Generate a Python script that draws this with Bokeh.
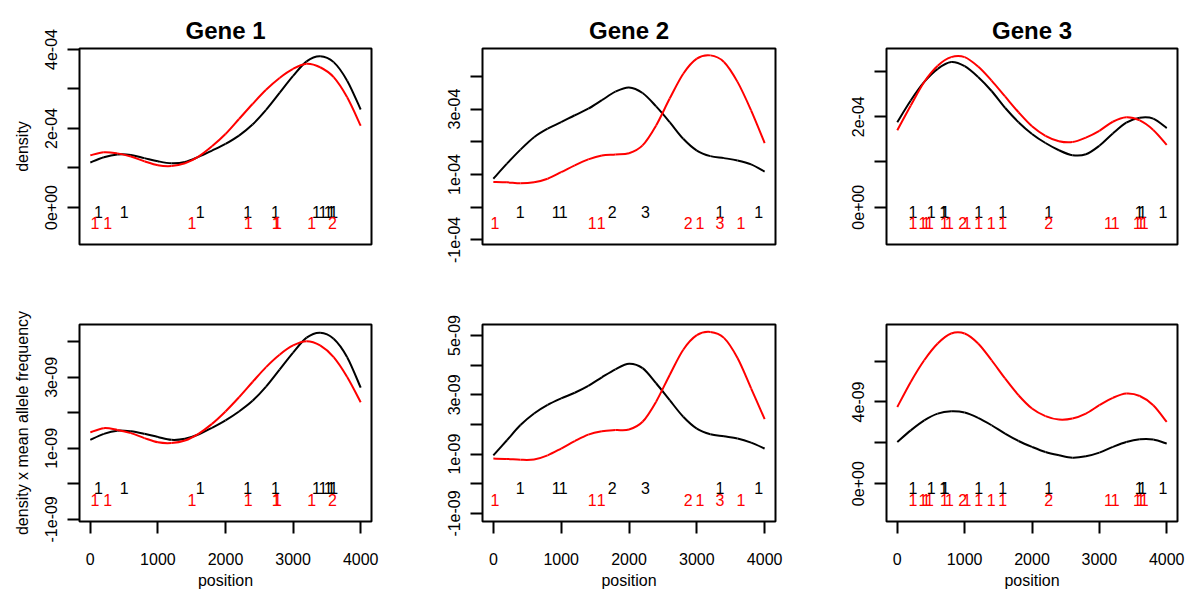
import numpy as np
from bokeh.plotting import figure
from bokeh.layouts import column, row
from bokeh.models import FixedTicker, Range1d
from bokeh.embed import file_html
from bokeh.resources import INLINE
from bokeh.core.properties import value

# ---------------- data ----------------
genes = ["Gene 1", "Gene 2", "Gene 3"]
positions = list(range(0, 4001, 200))

# density (units of 1e-4)
g1_dens_black = np.array([1.14, 1.27, 1.34, 1.33, 1.25, 1.17, 1.12, 1.15, 1.28, 1.44, 1.61, 1.82, 2.10, 2.47, 2.90, 3.33, 3.70, 3.83, 3.68, 3.21, 2.48]) * 1e-4
g1_dens_red = np.array([1.32, 1.40, 1.37, 1.29, 1.17, 1.07, 1.05, 1.12, 1.29, 1.55, 1.86, 2.24, 2.62, 2.98, 3.28, 3.51, 3.64, 3.55, 3.30, 2.79, 2.07]) * 1e-4
g2_dens_black = np.array([0.87, 1.33, 1.76, 2.14, 2.40, 2.60, 2.81, 3.01, 3.27, 3.53, 3.66, 3.49, 3.08, 2.60, 2.09, 1.73, 1.56, 1.50, 1.43, 1.31, 1.09]) * 1e-4
g2_dens_red = np.array([0.77, 0.76, 0.73, 0.76, 0.87, 1.07, 1.28, 1.46, 1.58, 1.61, 1.65, 1.89, 2.50, 3.32, 4.08, 4.54, 4.64, 4.44, 3.83, 2.96, 1.96]) * 1e-4
g3_dens_black = np.array([1.88, 2.36, 2.77, 3.06, 3.21, 3.12, 2.88, 2.57, 2.20, 1.88, 1.62, 1.42, 1.26, 1.15, 1.17, 1.36, 1.63, 1.87, 1.98, 1.96, 1.75]) * 1e-4
g3_dens_red = np.array([1.70, 2.25, 2.77, 3.13, 3.32, 3.32, 3.11, 2.80, 2.45, 2.10, 1.79, 1.58, 1.46, 1.44, 1.54, 1.69, 1.89, 1.99, 1.92, 1.71, 1.38]) * 1e-4

# density x mean allele frequency (units of 1e-9)
g1_freq_black = np.array([1.24, 1.41, 1.50, 1.48, 1.41, 1.32, 1.24, 1.27, 1.39, 1.58, 1.79, 2.04, 2.34, 2.74, 3.22, 3.70, 4.12, 4.26, 4.09, 3.57, 2.71]) * 1e-9
g1_freq_red = np.array([1.45, 1.57, 1.52, 1.43, 1.29, 1.17, 1.15, 1.22, 1.41, 1.69, 2.04, 2.44, 2.87, 3.29, 3.64, 3.90, 4.02, 3.90, 3.57, 3.01, 2.30]) * 1e-9
g2_freq_black = np.array([0.96, 1.47, 1.98, 2.37, 2.66, 2.88, 3.07, 3.30, 3.59, 3.86, 4.05, 3.90, 3.39, 2.82, 2.26, 1.86, 1.67, 1.60, 1.53, 1.39, 1.19]) * 1e-9
g2_freq_red = np.array([0.85, 0.84, 0.81, 0.82, 0.96, 1.19, 1.44, 1.66, 1.77, 1.81, 1.83, 2.09, 2.77, 3.67, 4.52, 5.01, 5.12, 4.92, 4.24, 3.22, 2.18]) * 1e-9
g3_freq_black = np.array([2.04, 2.61, 3.10, 3.43, 3.54, 3.48, 3.22, 2.86, 2.45, 2.09, 1.80, 1.55, 1.39, 1.27, 1.34, 1.52, 1.80, 2.04, 2.17, 2.16, 1.96]) * 1e-9
g3_freq_red = np.array([3.75, 4.98, 6.04, 6.86, 7.35, 7.35, 6.86, 6.04, 5.15, 4.33, 3.68, 3.31, 3.14, 3.19, 3.43, 3.84, 4.20, 4.41, 4.29, 3.84, 3.02]) * 1e-9

# site positions and counts
g1_black_pos = [120, 500, 1627, 2329, 2740, 3347, 3441, 3521, 3563, 3600]
g1_black_cnt = ["1", "1", "1", "1", "1", "1", "1", "1", "1", "1"]
g1_red_pos = [70, 258, 1504, 2335, 2750, 2770, 3274, 3581]
g1_red_cnt = ["1", "1", "1", "1", "1", "1", "1", "2"]

g2_black_pos = [394, 927, 1031, 1753, 2241, 3342, 3911]
g2_black_cnt = ["1", "1", "1", "2", "3", "1", "1"]
g2_red_pos = [24, 1456, 1590, 2874, 3046, 3342, 3649]
g2_red_cnt = ["1", "1", "1", "2", "1", "3", "1"]

g3_black_pos = [233, 504, 690, 710, 1210, 1566, 2247, 3590, 3640, 3945]
g3_black_cnt = ["1", "1", "1", "1", "1", "1", "1", "1", "1", "1"]
g3_red_pos = [233, 381, 430, 479, 701, 775, 973, 1033, 1210, 1393, 1566, 2247, 3136, 3234, 3566, 3615, 3664]
g3_red_cnt = ["1", "1", "1", "1", "1", "1", "2", "1", "1", "1", "1", "2", "1", "1", "1", "1", "1"]

# axis limits and ticks
x_limits = (-160, 4160)
x_ticks = [0, 1000, 2000, 3000, 4000]

top_ylims = [(-0.937e-4, 4.025e-4), (-1.14e-4, 4.85e-4), (-0.825e-4, 3.51e-4)]
bot_ylims = [(-1.06e-9, 4.49e-9), (-1.27e-9, 5.37e-9), (-1.85e-9, 7.79e-9)]

top_yticks = [
    [0.0, 1e-4, 2e-4, 3e-4, 4e-4],
    [-1e-4, 0.0, 1e-4, 2e-4, 3e-4, 4e-4],
    [0.0, 1e-4, 2e-4, 3e-4],
]
top_ylabels = [
    ["0e+00", "", "2e-04", "", "4e-04"],
    ["-1e-04", "", "1e-04", "", "3e-04", ""],
    ["0e+00", "", "2e-04", ""],
]
bot_yticks = [
    [-1e-9, 0.0, 1e-9, 2e-9, 3e-9, 4e-9],
    [-1e-9, 0.0, 1e-9, 2e-9, 3e-9, 4e-9, 5e-9],
    [0.0, 2e-9, 4e-9, 6e-9],
]
bot_ylabels = [
    ["-1e-09", "", "1e-09", "", "3e-09", ""],
    ["-1e-09", "", "1e-09", "", "3e-09", "", "5e-09"],
    ["0e+00", "", "4e-09", ""],
]

top_curves = [(g1_dens_black, g1_dens_red), (g2_dens_black, g2_dens_red), (g3_dens_black, g3_dens_red)]
bot_curves = [(g1_freq_black, g1_freq_red), (g2_freq_black, g2_freq_red), (g3_freq_black, g3_freq_red)]
sites = [
    (g1_black_pos, g1_black_cnt, g1_red_pos, g1_red_cnt),
    (g2_black_pos, g2_black_cnt, g2_red_pos, g2_red_cnt),
    (g3_black_pos, g3_black_cnt, g3_red_pos, g3_red_cnt),
]

# ---------------- layout ----------------
FONT = "Liberation Sans"
col_w = [400, 400, 395]
col_left = [79, 82, 86]
col_right = [29, 25, 18]
row_h = [280, 316]
row_top = [48, 44]
row_bot = [36, 75]


def smooth_segments(xs, ys):
    """Catmull-Rom curve through the read points, drawn as cubic Bezier segments."""
    xs = np.asarray(xs, dtype=float)
    ys = np.asarray(ys, dtype=float)
    px = np.concatenate([[xs[0]], xs, [xs[-1]]])
    py = np.concatenate([[ys[0]], ys, [ys[-1]]])
    n = len(xs) - 1
    x0, y0 = px[1:n + 1], py[1:n + 1]
    x1, y1 = px[2:n + 2], py[2:n + 2]
    cx0 = x0 + (px[2:n + 2] - px[0:n]) / 6.0
    cy0 = y0 + (py[2:n + 2] - py[0:n]) / 6.0
    cx1 = x1 - (px[3:n + 3] - px[1:n + 1]) / 6.0
    cy1 = y1 - (py[3:n + 3] - py[1:n + 1]) / 6.0
    return dict(x0=x0, y0=y0, x1=x1, y1=y1, cx0=cx0, cy0=cy0, cx1=cx1, cy1=cy1)


def make_panel(ci, ri, curves, site, ylim, yticks, ylabels, title, ylab):
    p = figure(
        width=col_w[ci], height=row_h[ri],
        x_range=Range1d(*x_limits), y_range=Range1d(*ylim),
        output_backend="svg", toolbar_location=None,
        x_axis_location="below" if ri == 1 else None,
        min_border_left=col_left[ci], min_border_right=col_right[ci],
        min_border_top=row_top[ri], min_border_bottom=row_bot[ri],
    )
    p.background_fill_color = "white"
    p.border_fill_color = "white"
    p.outline_line_color = "black"
    p.outline_line_width = 2
    p.xgrid.visible = False
    p.ygrid.visible = False

    if title:
        p.title.text = title
        p.title.align = "center"
        p.title.text_font = FONT
        p.title.text_font_size = "24px"
        p.title.text_font_style = "bold"
        p.title.text_color = "black"
        p.title.standoff = 10

    axes = list(p.yaxis) + (list(p.xaxis) if ri == 1 else [])
    for ax in axes:
        ax.axis_line_color = None
        ax.major_tick_in = 0
        ax.major_tick_out = 12
        ax.major_tick_line_width = 2
        ax.major_tick_line_color = "black"
        ax.minor_tick_line_color = None
        ax.major_label_text_font = FONT
        ax.major_label_text_font_size = "16px"
        ax.major_label_text_color = "black"
        ax.axis_label_text_font = FONT
        ax.axis_label_text_font_size = "16px"
        ax.axis_label_text_font_style = "normal"
        ax.axis_label_text_color = "black"

    yax = p.yaxis[0]
    yax.ticker = FixedTicker(ticks=yticks)
    yax.major_label_overrides = dict(zip(yticks, ylabels))
    yax.major_label_orientation = "vertical"
    yax.major_label_standoff = 10
    if ylab:
        yax.axis_label = ylab
        yax.axis_label_standoff = 12

    if ri == 1:
        xax = p.xaxis[0]
        xax.ticker = FixedTicker(ticks=x_ticks)
        xax.major_label_standoff = 19
        xax.axis_label = "position"
        xax.axis_label_standoff = 4

    black_curve, red_curve = curves
    p.bezier(**smooth_segments(positions, black_curve), line_color="black", line_width=2)
    p.bezier(**smooth_segments(positions, red_curve), line_color="red", line_width=2)

    lo, hi = ylim
    bpos, bcnt, rpos, rcnt = site
    p.text(x=bpos, y=[lo + 0.168 * (hi - lo)] * len(bpos), text=bcnt,
           text_color="black", text_font=value(FONT), text_font_size="16px",
           text_align="center", text_baseline="middle")
    p.text(x=rpos, y=[lo + 0.108 * (hi - lo)] * len(rpos), text=rcnt,
           text_color="red", text_font=value(FONT), text_font_size="16px",
           text_align="center", text_baseline="middle")
    return p


top_row = []
bot_row = []
for i in range(3):
    top_row.append(make_panel(i, 0, top_curves[i], sites[i], top_ylims[i], top_yticks[i],
                              top_ylabels[i], genes[i], "density" if i == 0 else None))
    bot_row.append(make_panel(i, 1, bot_curves[i], sites[i], bot_ylims[i], bot_yticks[i],
                              bot_ylabels[i], None,
                              "density x mean allele frequency" if i == 0 else None))

layout = column(row(*top_row), row(*bot_row))
open("out.html", "w").write(file_html(layout, INLINE))
